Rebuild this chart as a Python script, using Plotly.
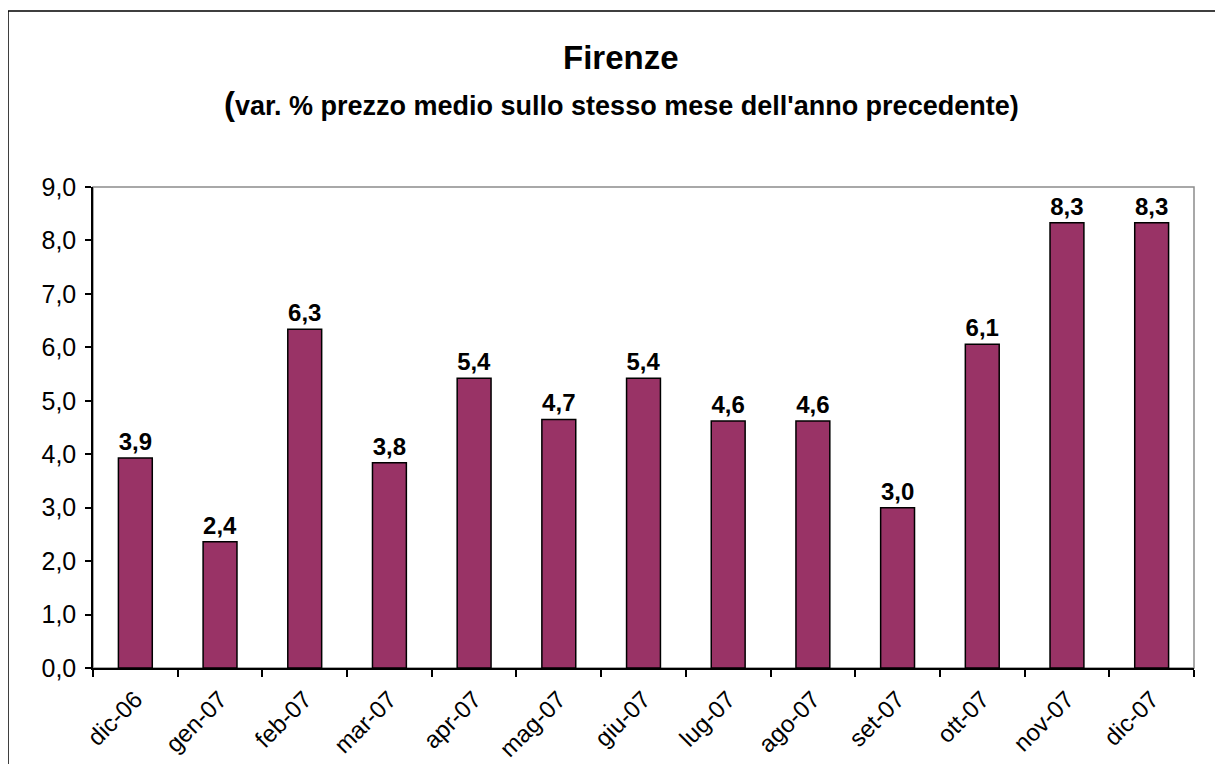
import plotly.graph_objects as go

months = ["dic-06", "gen-07", "feb-07", "mar-07", "apr-07", "mag-07", "giu-07",
          "lug-07", "ago-07", "set-07", "ott-07", "nov-07", "dic-07"]
values = [3.93, 2.36, 6.34, 3.84, 5.42, 4.65, 5.42, 4.62, 4.62, 3.0, 6.06, 8.33, 8.33]
y_ticks = [0, 1, 2, 3, 4, 5, 6, 7, 8, 9]

title_main = "Firenze"
title_sub = "(var. % prezzo medio sullo stesso mese dell'anno precedente)"

FONT = "Liberation Sans, Arial, sans-serif"

fig = go.Figure()
fig.add_trace(go.Bar(
    x=months, y=values,
    marker=dict(color="#993366", line=dict(color="black", width=1.5)),
    width=0.4,
    texttemplate="<b>%{y:.1f}</b>", textposition="outside",
    textfont=dict(family=FONT, size=24, color="black"),
    cliponaxis=False,
))

fig.update_layout(
    width=1223, height=764,
    margin=dict(l=85, r=37, t=179, b=104),
    paper_bgcolor="white", plot_bgcolor="white",
    separators=",.",
    showlegend=False,
    font=dict(family=FONT, color="black"),
    xaxis=dict(
        type="category", tickson="boundaries", ticks="outside", ticklen=7,
        tickcolor="black", tickwidth=1.5,
        showline=True, linecolor="black", linewidth=1.5,
        tickangle=-45, tickfont=dict(family=FONT, size=24, color="black"),
        ticklabelstandoff=6, automargin=False,
        showgrid=False, zeroline=False,
    ),
    yaxis=dict(
        range=[0, 9], tickvals=y_ticks, tickformat=".1f",
        ticks="outside", ticklen=6, tickcolor="black", tickwidth=1.5,
        showline=True, linecolor="black", linewidth=1.5,
        tickfont=dict(family=FONT, size=25, color="black"),
        ticklabelstandoff=4, automargin=False,
        showgrid=False, zeroline=False,
    ),
    shapes=[
        dict(type="rect", xref="paper", yref="paper", x0=0, x1=1, y0=0, y1=1,
             line=dict(color="#8c8c8c", width=1.5), layer="below"),
        dict(type="rect", xref="paper", yref="paper",
             x0=-0.0772, x1=1.05, y0=-0.25, y1=1.3659,
             line=dict(color="black", width=1.5), layer="below"),
    ],
    annotations=[
        dict(text="<b>" + title_main + "</b>", xref="paper", yref="paper",
             x=0.4796, y=1.270, xanchor="center", yanchor="middle",
             showarrow=False, font=dict(family=FONT, size=33, color="black")),
        dict(text="<b><span style='font-size:33px'>" + title_sub[0] + "</span>" + title_sub[1:] + "</b>",
             xref="paper", yref="paper",
             x=0.4796, y=1.1746, xanchor="center", yanchor="middle",
             showarrow=False, font=dict(family=FONT, size=27, color="black")),
    ],
)

fig.write_html("out.html")
